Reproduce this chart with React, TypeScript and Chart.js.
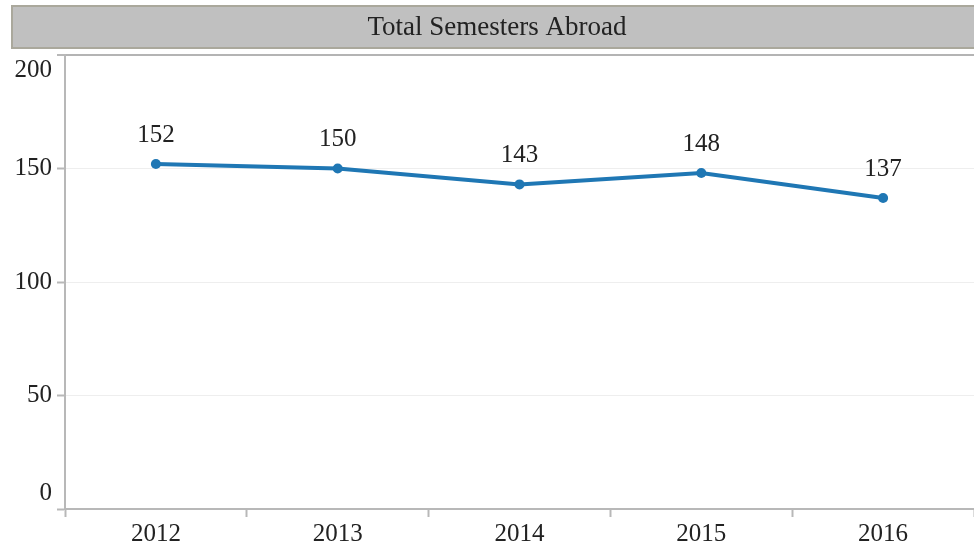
import React, { useEffect, useRef } from "react";
import { Chart, registerables } from "chart.js";

Chart.register(...registerables);

const TITLE = "Total Semesters Abroad";
const years = ["2012", "2013", "2014", "2015", "2016"];
const semesters = [152, 150, 143, 148, 137];
const yTicks = [0, 50, 100, 150, 200];

const FONT = '"Liberation Serif", "DejaVu Serif", serif';
const AXIS_GRAY = "#b8b8b8";
const LINE_BLUE = "#1f77b4";

export default function App() {
  const ref = useRef<HTMLCanvasElement | null>(null);

  useEffect(() => {
    const canvas = ref.current;
    if (!canvas) return;

    const titlePlugin = {
      id: "titleBar",
      beforeDraw(chart: any) {
        const ctx = chart.ctx;
        ctx.save();
        ctx.fillStyle = "#c0c0c0";
        ctx.fillRect(12, 6, 970, 42);
        ctx.strokeStyle = "#aaa89c";
        ctx.lineWidth = 2;
        ctx.strokeRect(12, 6, 970, 42);
        ctx.fillStyle = "#222";
        ctx.font = `27px ${FONT}`;
        ctx.textAlign = "center";
        ctx.textBaseline = "middle";
        ctx.fillText(TITLE, 497, 28);
        ctx.restore();
      },
    };

    const labelsPlugin = {
      id: "customLabels",
      afterDraw(chart: any) {
        const ctx = chart.ctx;
        const y = chart.scales.y;
        const area = chart.chartArea;
        ctx.save();
        ctx.fillStyle = "#222";
        ctx.font = `25px ${FONT}`;
        ctx.textAlign = "right";
        ctx.textBaseline = "middle";
        yTicks.forEach((v) => {
          let py = y.getPixelForValue(v);
          py = Math.min(Math.max(py, area.top + 15), area.bottom - 16);
          ctx.fillText(String(v), 52, py);
        });
        const meta = chart.getDatasetMeta(0);
        ctx.textAlign = "center";
        meta.data.forEach((pt: any, i: number) => {
          ctx.fillText(String(semesters[i]), pt.x, pt.y - 29);
        });
        ctx.restore();
      },
    };

    const chart = new Chart(canvas, {
      type: "line",
      data: {
        labels: years,
        datasets: [
          {
            data: semesters,
            borderColor: LINE_BLUE,
            backgroundColor: LINE_BLUE,
            borderWidth: 4,
            pointRadius: 5,
            pointBackgroundColor: LINE_BLUE,
            pointBorderWidth: 0,
            tension: 0,
          },
        ],
      },
      options: {
        animation: false,
        responsive: false,
        devicePixelRatio: 1,
        layout: {
          autoPadding: false,
          padding: { top: 55, left: 0, right: 0, bottom: 0 },
        },
        plugins: {
          legend: { display: false },
          tooltip: { enabled: false },
          title: { display: false },
        },
        scales: {
          x: {
            type: "category",
            offset: true,
            afterFit: (s: any) => {
              s.height = 35;
            },
            grid: {
              offset: true,
              drawOnChartArea: false,
              drawTicks: true,
              tickLength: 8,
              tickColor: AXIS_GRAY,
              tickWidth: 2,
            },
            border: { color: AXIS_GRAY, width: 2 },
            ticks: {
              color: "#222",
              font: { family: FONT, size: 25 },
              padding: 2,
              maxRotation: 0,
            },
          },
          y: {
            min: 0,
            max: 200,
            afterFit: (s: any) => {
              s.width = 65;
            },
            afterBuildTicks: (s: any) => {
              s.ticks = yTicks.map((v) => ({ value: v }));
            },
            grid: {
              color: (c: any) =>
                c.tick && c.tick.value === 200 ? "#b4b4b4" : "#eeeeee",
              lineWidth: (c: any) => (c.tick && c.tick.value === 200 ? 2 : 1),
              drawTicks: true,
              tickLength: 8,
              tickColor: AXIS_GRAY,
              tickWidth: 2,
            },
            border: { color: AXIS_GRAY, width: 2 },
            ticks: {
              color: "rgba(0,0,0,0)",
              font: { family: FONT, size: 22 },
            },
          },
        },
      },
      plugins: [titlePlugin, labelsPlugin],
    });

    return () => chart.destroy();
  }, []);

  return (
    <div
      style={{
        position: "absolute",
        left: 0,
        top: 0,
        width: 974,
        height: 544,
        background: "#fff",
      }}
    >
      <canvas ref={ref} width={974} height={544} />
    </div>
  );
}
